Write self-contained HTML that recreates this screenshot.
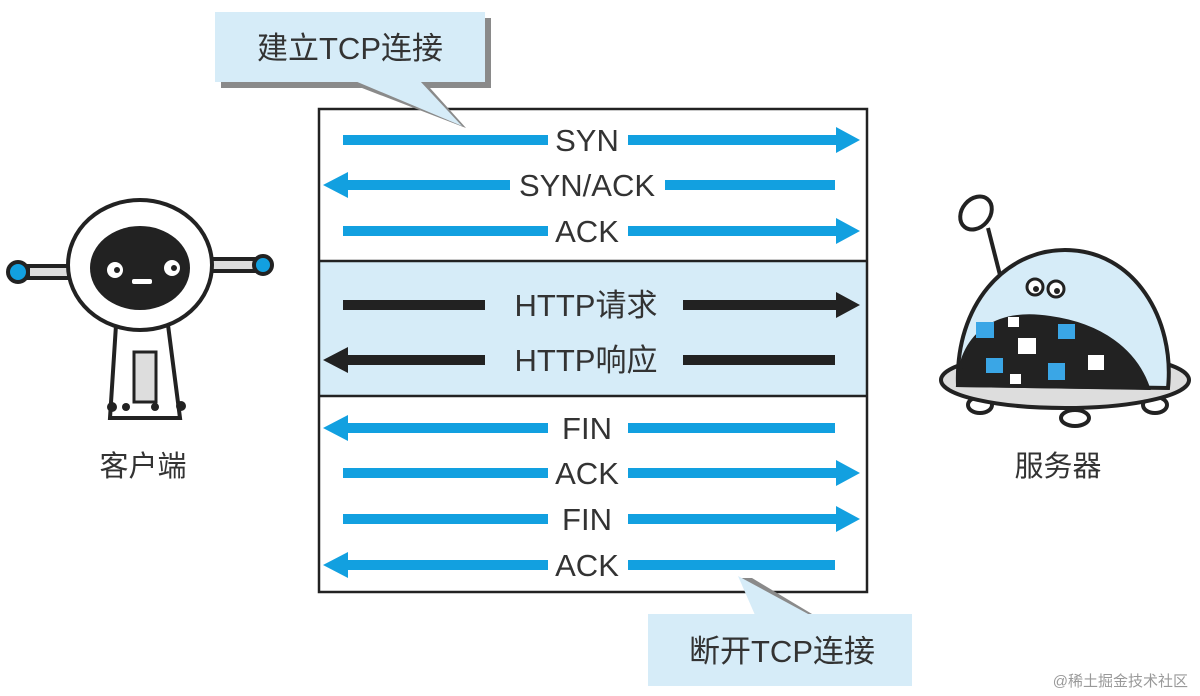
<!DOCTYPE html>
<html><head><meta charset="utf-8"><style>
html,body{margin:0;padding:0;background:#fff;}
svg{display:block}
text{font-family:"Liberation Sans","Noto Sans CJK SC",sans-serif;}
</style></head><body>
<svg width="1200" height="696" viewBox="0 0 1200 696" xmlns="http://www.w3.org/2000/svg">
<rect x="319" y="261" width="548" height="135" fill="#d6ecf8"/>
<rect x="319" y="109" width="548" height="483" fill="none" stroke="#222" stroke-width="2.5"/>
<line x1="319" y1="261" x2="867" y2="261" stroke="#222" stroke-width="2.5"/>
<line x1="319" y1="396" x2="867" y2="396" stroke="#222" stroke-width="2.5"/>

<rect x="221" y="18" width="270" height="70" fill="#8a8a8a"/>
<polygon points="362,88 430,88 466,128" fill="#8a8a8a"/>
<rect x="215" y="12" width="270" height="70" fill="#d6ecf8"/>
<polygon points="355,81 420,81 462,126" fill="#d6ecf8"/>
<text x="350" y="59" font-size="31" text-anchor="middle" fill="#333">建立TCP连接</text>

<polygon points="742,578 752,578 812,614 760,614" fill="#8a8a8a"/>
<rect x="648" y="614" width="264" height="72" fill="#d6ecf8"/>
<polygon points="755,615 738,576 810,615" fill="#d6ecf8"/>
<text x="782" y="662" font-size="31" text-anchor="middle" fill="#333">断开TCP连接</text>

<g fill="#12a0e0">
<rect x="343" y="135" width="205" height="10"/><rect x="628" y="135" width="210" height="10"/>
<polygon points="836,127 860,140 836,153"/>
<polygon points="348,172 323,185 348,198"/><rect x="346" y="180" width="164" height="10"/><rect x="665" y="180" width="170" height="10"/>
<rect x="343" y="226" width="205" height="10"/><rect x="628" y="226" width="210" height="10"/>
<polygon points="836,218 860,231 836,244"/>
<polygon points="348,415 323,428 348,441"/><rect x="346" y="423" width="202" height="10"/><rect x="628" y="423" width="207" height="10"/>
<rect x="343" y="468" width="205" height="10"/><rect x="628" y="468" width="210" height="10"/>
<polygon points="836,460 860,473 836,486"/>
<rect x="343" y="514" width="205" height="10"/><rect x="628" y="514" width="210" height="10"/>
<polygon points="836,506 860,519 836,532"/>
<polygon points="348,552 323,565 348,578"/><rect x="346" y="560" width="202" height="10"/><rect x="628" y="560" width="207" height="10"/>
</g>
<g fill="#222">
<rect x="343" y="300" width="142" height="10"/><rect x="683" y="300" width="155" height="10"/>
<polygon points="836,292 860,305 836,318"/>
<polygon points="348,347 323,360 348,373"/><rect x="346" y="355" width="139" height="10"/><rect x="683" y="355" width="152" height="10"/>
</g>
<g font-size="31" fill="#333" text-anchor="middle">
<text x="587" y="151">SYN</text>
<text x="587" y="196">SYN/ACK</text>
<text x="587" y="242">ACK</text>
<text x="586" y="316">HTTP请求</text>
<text x="586" y="371">HTTP响应</text>
<text x="587" y="439">FIN</text>
<text x="587" y="484">ACK</text>
<text x="587" y="530">FIN</text>
<text x="587" y="576">ACK</text>
</g>

<!-- client robot -->
<g stroke="#222" stroke-width="4">
<rect x="28" y="266" width="45" height="12" fill="#ddd"/>
<rect x="210" y="259" width="45" height="12" fill="#ddd"/>
<circle cx="18" cy="272" r="10" fill="#12a0e0"/>
<circle cx="263" cy="265" r="9" fill="#12a0e0"/>
<polygon points="116,325 168,325 180,418 110,418" fill="#fff"/>
<rect x="134" y="352" width="22" height="50" fill="#ddd" stroke-width="3"/>
<ellipse cx="140" cy="265" rx="72" ry="65" fill="#fff"/>
</g>
<ellipse cx="140" cy="268" rx="50" ry="42" fill="#222"/>
<circle cx="115" cy="270" r="8" fill="#fff"/><circle cx="117" cy="270" r="3" fill="#222"/>
<circle cx="172" cy="268" r="8" fill="#fff"/><circle cx="174" cy="268" r="3" fill="#222"/>
<rect x="132" y="279" width="20" height="5" rx="2" fill="#fff"/>
<circle cx="112" cy="407" r="5" fill="#222"/><circle cx="126" cy="407" r="4" fill="#222"/>
<circle cx="155" cy="407" r="4" fill="#222"/><circle cx="181" cy="406" r="5" fill="#222"/>
<text x="143" y="476" font-size="29" text-anchor="middle" fill="#333">客户端</text>

<!-- server robot -->
<g stroke="#222" stroke-width="4">
<line x1="988" y1="228" x2="1000" y2="275"/>
<ellipse cx="976" cy="213" rx="14" ry="18" fill="#fff" transform="rotate(40 976 213)"/>
<ellipse cx="980" cy="405" rx="12" ry="8" fill="#fff"/>
<ellipse cx="1075" cy="418" rx="14" ry="8" fill="#fff"/>
<ellipse cx="1155" cy="405" rx="12" ry="8" fill="#fff"/>
<ellipse cx="1065" cy="380" rx="124" ry="28" fill="#ddd"/>
<path d="M958,385 C955,305 1005,250 1065,250 C1135,250 1175,320 1168,388 Z" fill="#d6ecf8"/>
<path d="M958,385 C962,330 1000,310 1050,318 C1100,325 1135,350 1148,388 Z" fill="#222"/>
</g>
<circle cx="1035" cy="287" r="8" fill="#fff" stroke="#222" stroke-width="3"/><circle cx="1036" cy="289" r="3" fill="#222"/>
<circle cx="1056" cy="289" r="8" fill="#fff" stroke="#222" stroke-width="3"/><circle cx="1057" cy="291" r="3" fill="#222"/>
<g fill="#3aa6e6">
<rect x="976" y="322" width="18" height="16"/><rect x="1058" y="324" width="17" height="15"/>
<rect x="986" y="358" width="17" height="15"/><rect x="1048" y="363" width="17" height="17"/>
</g>
<g fill="#fff">
<rect x="1008" y="317" width="11" height="10"/><rect x="1018" y="338" width="18" height="16"/>
<rect x="1088" y="355" width="16" height="15"/><rect x="1010" y="374" width="11" height="10"/>
</g>
<text x="1058" y="476" font-size="29" text-anchor="middle" fill="#333">服务器</text>

<text x="1188" y="686" font-size="15" text-anchor="end" fill="#999">@稀土掘金技术社区</text>
</svg>
</body></html>
